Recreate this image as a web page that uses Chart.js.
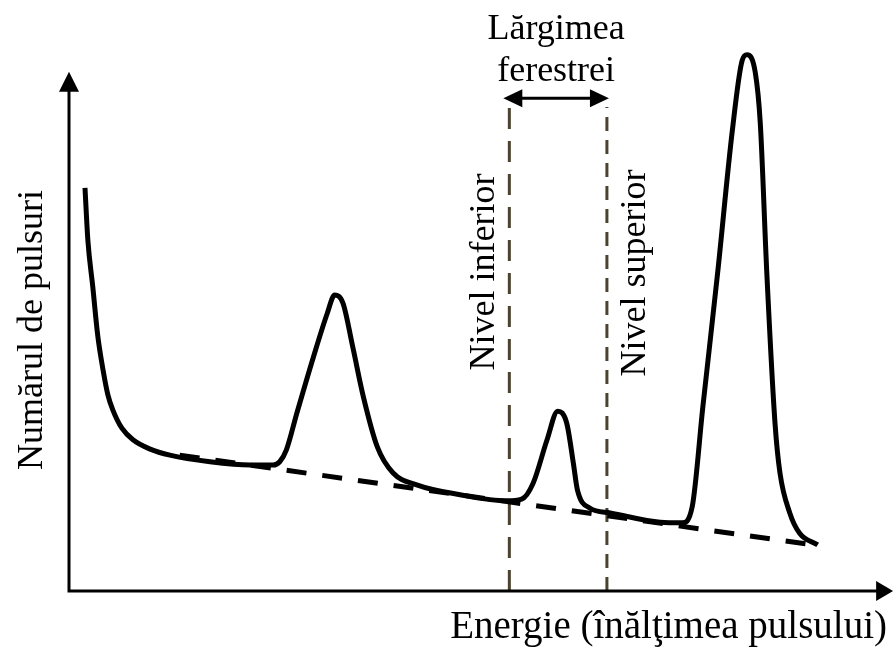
<!DOCTYPE html>
<html>
<head>
<meta charset="utf-8">
<script src="https://cdn.jsdelivr.net/npm/chart.js@4"></script>
<style>
    body { margin: 0; background: #fff; }
    #wrap { width: 895px; height: 651px; position: relative; }
    #probe { position: absolute; left: -9999px; font-family: "Liberation Serif"; font-size: 36px; }
</style>
</head>
<body>
<div id="wrap"><canvas id="spectrum"></canvas></div>
<span id="probe">Lărgimea ţ î</span>
<script>
// spectru schematic: energie (0-100) vs numar de pulsuri (0-100)
const energy = [1.95, 2.3, 2.9, 3.5, 4.15, 4.75, 5.35, 6.45, 7.8, 9.9, 12.3, 17.2, 22.1, 24.9, 25.7, 26.5, 27.8, 29.8, 31.5, 32.4, 33.4, 34.6, 35.9, 37.6, 39.5, 42.4, 47.7, 53.4, 55.2, 56.6, 58.3, 59.6, 60.7, 61.5, 62.0, 63.5, 66.0, 72.1, 74.8, 76.0, 77.3, 79.1, 80.9, 82.1, 82.7, 83.7, 84.3, 85.1, 86.1, 86.7, 87.9, 89.1, 91.3];
const counts = [73.3, 63.8, 55.3, 46.5, 40.2, 35.6, 32.9, 29.6, 27.5, 25.8, 24.7, 23.5, 22.9, 22.9, 23.5, 25.6, 32.4, 42.5, 50.5, 53.8, 52.4, 44.4, 35.3, 26.2, 21.5, 19.3, 17.5, 16.4, 16.7, 19.6, 27.5, 32.7, 30.5, 23.3, 18.4, 15.1, 14.2, 12.5, 12.4, 15.3, 33.5, 57.8, 83.8, 96.5, 97.5, 94.2, 85.1, 57.8, 30.5, 21.5, 14.2, 10.5, 8.4];
// fondul (linia punctata)
const baseX = [13.5, 91.6];
const baseY = [24.7, 8.2];
// nivelurile ferestrei
const lowerLevel = 53.7;
const upperLevel = 65.6;
const levelTop = 88;
const windowArrowY = 89.6;
const axisTopY = 94.4;
const axisEndX = 100.5;

const xTitle = 'Energie (înălţimea pulsului)';
const yTitle = 'Numărul de pulsuri';
const windowTitle = ['Lărgimea', 'ferestrei'];
const lowerLabel = 'Nivel inferior';
const upperLabel = 'Nivel superior';

const pts = (xs, ys) => xs.map((x, i) => ({x: x, y: ys[i]}));
const serif = px => px + 'px "Liberation Serif", "Times New Roman", "DejaVu Serif", serif';

const arrowHead = (ctx, tx, ty, dx, dy, len, half) => {
    // dx,dy = directia sagetii
    const bx = tx - dx * len, by = ty - dy * len;
    ctx.beginPath();
    ctx.moveTo(tx, ty);
    ctx.lineTo(bx - dy * half, by + dx * half);
    ctx.lineTo(bx + dy * half, by - dx * half);
    ctx.closePath();
    ctx.fill();
};

const decorations = {
    id: 'decorations',
    afterDraw(chart) {
        const ctx = chart.ctx;
        const xs = chart.scales.x, ys = chart.scales.y;
        const x0 = xs.getPixelForValue(0), y0 = ys.getPixelForValue(0);
        const yTop = ys.getPixelForValue(axisTopY), xEnd = xs.getPixelForValue(axisEndX);
        ctx.save();
        ctx.fillStyle = '#000';
        ctx.strokeStyle = '#000';
        ctx.lineWidth = 3;
        // axe
        ctx.beginPath();
        ctx.moveTo(x0, yTop + 15);
        ctx.lineTo(x0, y0);
        ctx.lineTo(xEnd - 14, y0);
        ctx.stroke();
        arrowHead(ctx, x0, yTop, 0, -1, 20, 10);
        arrowHead(ctx, xEnd, y0, 1, 0, 17, 10);

        // sageata dubla pentru latimea ferestrei
        const lx = xs.getPixelForValue(lowerLevel) - 6;
        const ux = xs.getPixelForValue(upperLevel) + 2;
        const ay = ys.getPixelForValue(windowArrowY);
        ctx.beginPath();
        ctx.moveTo(lx + 12, ay);
        ctx.lineTo(ux - 12, ay);
        ctx.stroke();
        arrowHead(ctx, lx, ay, -1, 0, 19, 9);
        arrowHead(ctx, ux, ay, 1, 0, 19, 9);

        // texte
        ctx.font = serif(36);
        ctx.textBaseline = 'alphabetic';
        ctx.textAlign = 'center';
        const mid = (lx + ux) / 2;
        ctx.fillText(windowTitle[0], mid, 39);
        ctx.fillText(windowTitle[1], mid, 81);

        ctx.font = serif(39);
        ctx.textAlign = 'right';
        ctx.fillText(xTitle, 887, 638);

        ctx.font = serif(36);
        ctx.textAlign = 'center';
        const vtext = (txt, bx, cy) => {
            ctx.save();
            ctx.translate(bx, cy);
            ctx.rotate(-Math.PI / 2);
            ctx.fillText(txt, 0, 0);
            ctx.restore();
        };
        vtext(yTitle, 42, 330);
        vtext(lowerLabel, 494, 272);
        vtext(upperLabel, 645, 273);
        ctx.restore();
    }
};

const draw = () => {
    const ctx = document.getElementById('spectrum').getContext('2d');
    new Chart(ctx, {
        type: 'line',
        data: {
            datasets: [
                {
                    label: 'Spectru',
                    data: pts(energy, counts),
                    borderColor: '#000',
                    borderWidth: 5,
                    pointRadius: 0,
                    cubicInterpolationMode: 'monotone',
                    fill: false
                },
                {
                    label: 'Fond',
                    data: pts(baseX, baseY),
                    borderColor: '#000',
                    borderWidth: 5,
                    borderDash: [20, 16],
                    pointRadius: 0,
                    fill: false
                },
                {
                    label: 'Nivel inferior',
                    data: pts([lowerLevel, lowerLevel], [0, levelTop]),
                    borderColor: '#4b4330',
                    borderWidth: 3,
                    borderDash: [21, 12],
                    pointRadius: 0,
                    fill: false
                },
                {
                    label: 'Nivel superior',
                    data: pts([upperLevel, upperLevel], [0, levelTop]),
                    borderColor: '#4b4330',
                    borderWidth: 3,
                    borderDash: [14, 9],
                    pointRadius: 0,
                    fill: false
                }
            ]
        },
        options: {
            responsive: true,
            maintainAspectRatio: false,
            animation: false,
            layout: {padding: {left: 69, right: 6, top: 41, bottom: 60}},
            plugins: {legend: {display: false}, tooltip: {enabled: false}},
            scales: {
                x: {type: 'linear', min: 0, max: 100, display: false},
                y: {type: 'linear', min: 0, max: 100, display: false}
            },
            elements: {line: {borderCapStyle: 'butt', borderJoinStyle: 'round'}}
        },
        plugins: [decorations]
    });
};

window.onload = () => {
    document.fonts.load(serif(36), 'Lărgimea ţ').then(draw, draw);
};
</script>
</body>
</html>
